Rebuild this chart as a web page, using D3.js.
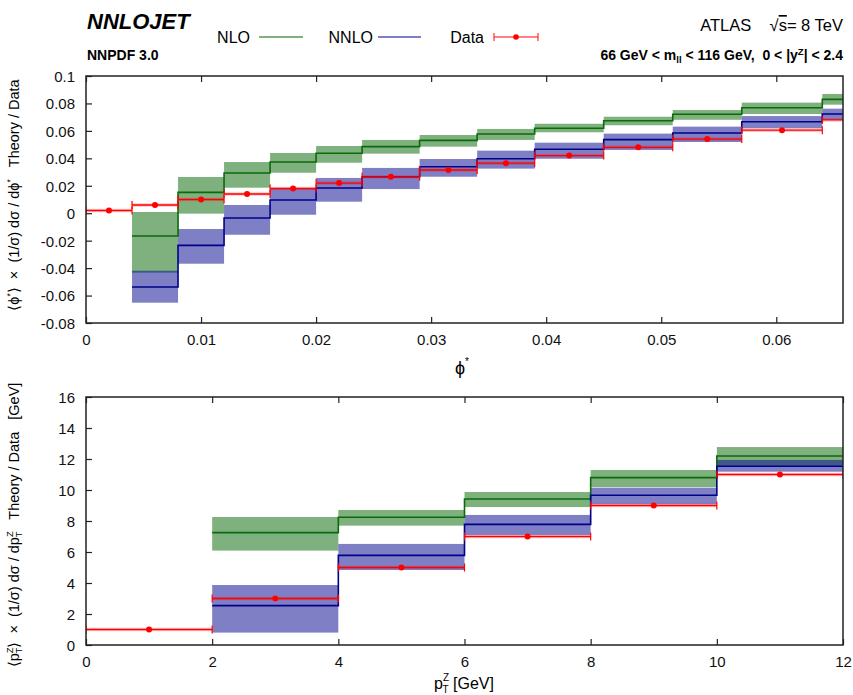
<!DOCTYPE html>
<html>
<head>
<meta charset="utf-8">
<script src="https://cdn.jsdelivr.net/npm/d3@7"></script>
<style>
    body { margin: 0; background: #fff; }
    svg { font-family: "Liberation Sans", Arial, Helvetica, sans-serif; }
    svg text { white-space: pre; }
    .axis path { display: none; }
    .axis line { stroke: #222; stroke-width: 1.2; }
    .axis text { font-size: 15px; fill: #111; }
    .frame { fill: none; stroke: #222; stroke-width: 1.5; }
</style>
</head>
<body>
<svg id="svg" width="853" height="695"></svg>
<script>
// phi* panel
const phiEdges = [0, 0.004, 0.008, 0.012, 0.016, 0.020, 0.024, 0.029, 0.034, 0.039, 0.045, 0.051, 0.057, 0.064, 0.072];
const phiData = [0.002, 0.006, 0.010, 0.014, 0.018, 0.022, 0.0265, 0.0315, 0.0365, 0.042, 0.048, 0.054, 0.0605, 0.068];
const phiNlo = [null, -0.0166, 0.0152, 0.0293, 0.0373, 0.0437, 0.0485, 0.0531, 0.0577, 0.0619, 0.0674, 0.0721, 0.0769, 0.0830];
const phiNloLo = [null, -0.0433, -0.0003, 0.0186, 0.0295, 0.0368, 0.0434, 0.0485, 0.0534, 0.0590, 0.0641, 0.0681, 0.0723, 0.0791];
const phiNloHi = [null, 0.0009, 0.0264, 0.0373, 0.0439, 0.0490, 0.0534, 0.0570, 0.0614, 0.0652, 0.0703, 0.0752, 0.0806, 0.0869];
const phiNnlo = [null, -0.0538, -0.0234, -0.0035, 0.0096, 0.0184, 0.0266, 0.0339, 0.0397, 0.0466, 0.0536, 0.0585, 0.0667, 0.0723];
const phiNnloLo = [null, -0.0652, -0.0368, -0.0157, -0.0011, 0.0084, 0.0176, 0.0266, 0.0325, 0.0397, 0.0461, 0.0519, 0.0619, 0.0679];
const phiNnloHi = [null, -0.0419, -0.0115, 0.0060, 0.0179, 0.0257, 0.0330, 0.0395, 0.0456, 0.0514, 0.0580, 0.0631, 0.0708, 0.0762];
const phiXTicks = [0, 0.01, 0.02, 0.03, 0.04, 0.05, 0.06];
const phiYTicks = [-0.08, -0.06, -0.04, -0.02, 0, 0.02, 0.04, 0.06, 0.08, 0.1];

// pT panel
const ptEdges = [0, 2, 4, 6, 8, 10, 12];
const ptData = [1, 3, 5, 7, 9, 11];
const ptNlo = [null, 7.25, 8.24, 9.42, 10.80, 12.19];
const ptNloLo = [null, 6.09, 7.70, 8.90, 10.19, 11.55];
const ptNloHi = [null, 8.26, 8.71, 9.87, 11.29, 12.77];
const ptNnlo = [null, 2.54, 5.78, 7.78, 9.66, 11.53];
const ptNnloLo = [null, 0.80, 4.84, 7.10, 9.08, 11.18];
const ptNnloHi = [null, 3.87, 6.52, 8.39, 10.15, 11.94];
const ptXTicks = [0, 2, 4, 6, 8, 10, 12];
const ptYTicks = [0, 2, 4, 6, 8, 10, 12, 14, 16];

const nloLine = '#0b6a0b', nloBand = 'rgba(0,100,0,0.5)';
const nnloLine = '#00008b', nnloBand = 'rgba(0,0,139,0.5)';
const dataColor = '#ff0000';

const svg = d3.select('#svg');
const left = 86, right = 843;

function bins(edges, vals) {
    return vals.map((v, i) => ({x0: edges[i], x1: edges[i + 1], v: v}))
        .filter(d => d.v !== null);
}

function stepPoints(edges, vals) {
    const pts = [];
    bins(edges, vals).forEach(d => { pts.push([d.x0, d.v]); pts.push([d.x1, d.v]); });
    return pts;
}

function fmt(d) {
    return d === 0 ? '0' : String(+d.toFixed(3));
}

function drawPanel(p) {
    const x = d3.scaleLinear().domain(p.xDomain).range([left, right]);
    const y = d3.scaleLinear().domain(p.yDomain).range([p.bottom, p.top]);

    const clipId = 'clip-' + p.id;
    svg.append('clipPath').attr('id', clipId)
      .append('rect')
        .attr('x', left).attr('y', p.top)
        .attr('width', right - left).attr('height', p.bottom - p.top);

    const g = svg.append('g').attr('clip-path', 'url(#' + clipId + ')');

    [[p.nloLo, p.nloHi, nloBand], [p.nnloLo, p.nnloHi, nnloBand]].forEach(([lo, hi, col]) => {
        const his = bins(p.edges, hi);
        g.append('g').selectAll('rect')
            .data(bins(p.edges, lo).map((d, i) => ({x0: d.x0, x1: d.x1, lo: d.v, hi: his[i].v})))
          .join('rect')
            .attr('x', d => x(d.x0))
            .attr('width', d => x(d.x1) - x(d.x0))
            .attr('y', d => y(d.hi))
            .attr('height', d => y(d.lo) - y(d.hi))
            .attr('fill', col);
    });

    const line = d3.line().x(d => x(d[0])).y(d => y(d[1]));
    [[p.nlo, nloLine], [p.nnlo, nnloLine]].forEach(([vals, col]) => {
        g.append('path')
            .attr('d', line(stepPoints(p.edges, vals)))
            .attr('fill', 'none')
            .attr('stroke', col)
            .attr('stroke-width', 1.6);
    });

    const dataBins = bins(p.edges, p.data);
    const dg = g.append('g');
    dg.selectAll('.dband')
        .data(dataBins)
      .join('line')
        .attr('x1', d => x(d.x0)).attr('x2', d => x(d.x1))
        .attr('y1', d => y(d.v)).attr('y2', d => y(d.v))
        .attr('stroke', 'rgba(255,0,0,0.22)')
        .attr('stroke-width', 3.5);
    dg.selectAll('.dline')
        .data(dataBins)
      .join('line')
        .attr('x1', d => x(d.x0)).attr('x2', d => x(d.x1))
        .attr('y1', d => y(d.v)).attr('y2', d => y(d.v))
        .attr('stroke', dataColor)
        .attr('stroke-width', 1.3);
    dg.selectAll('.dcap')
        .data(dataBins.flatMap(d => [[d.x0, d.v], [d.x1, d.v]]))
      .join('line')
        .attr('x1', d => x(d[0])).attr('x2', d => x(d[0]))
        .attr('y1', d => y(d[1]) - 4).attr('y2', d => y(d[1]) + 4)
        .attr('stroke', dataColor)
        .attr('stroke-width', 1.2);
    dg.selectAll('circle')
        .data(dataBins)
      .join('circle')
        .attr('cx', d => x((d.x0 + d.x1) / 2))
        .attr('cy', d => y(d.v))
        .attr('r', 3)
        .attr('fill', dataColor);

    svg.append('g')
        .attr('class', 'axis')
        .attr('transform', 'translate(0,' + p.bottom + ')')
        .call(d3.axisBottom(x).tickValues(p.xTicks).tickFormat(fmt).tickSize(-6).tickPadding(11));
    svg.append('g')
        .attr('class', 'axis')
        .attr('transform', 'translate(0,' + p.top + ')')
        .call(d3.axisTop(x).tickValues(p.xTicks).tickFormat('').tickSize(-6));
    svg.append('g')
        .attr('class', 'axis')
        .attr('transform', 'translate(' + left + ',0)')
        .call(d3.axisLeft(y).tickValues(p.yTicks).tickFormat(fmt).tickSize(-6).tickPadding(11))
      .selectAll('text')
        .attr('dy', '0.36em');

    svg.append('rect')
        .attr('class', 'frame')
        .attr('x', left).attr('y', p.top)
        .attr('width', right - left).attr('height', p.bottom - p.top);
}

drawPanel({
    id: 'phi', top: 76, bottom: 323,
    xDomain: [0, 0.0658], yDomain: [-0.08, 0.1],
    edges: phiEdges, data: phiData,
    nlo: phiNlo, nloLo: phiNloLo, nloHi: phiNloHi,
    nnlo: phiNnlo, nnloLo: phiNnloLo, nnloHi: phiNnloHi,
    xTicks: phiXTicks, yTicks: phiYTicks,
});

drawPanel({
    id: 'pt', top: 397, bottom: 645,
    xDomain: [0, 12], yDomain: [0, 16],
    edges: ptEdges, data: ptData,
    nlo: ptNlo, nloLo: ptNloLo, nloHi: ptNloHi,
    nnlo: ptNnlo, nnloLo: ptNnloLo, nnloHi: ptNnloHi,
    xTicks: ptXTicks, yTicks: ptYTicks,
});

// header
svg.append('text')
    .attr('x', 87).attr('y', 29)
    .attr('font-size', 22).attr('font-weight', 'bold').attr('font-style', 'italic')
    .text('NNLOJET');
svg.append('text')
    .attr('x', 87).attr('y', 60)
    .attr('font-size', 14).attr('font-weight', 'bold')
    .text('NNPDF 3.0');

const atlas = svg.append('text')
    .attr('x', 843).attr('y', 31)
    .attr('text-anchor', 'end')
    .attr('font-size', 16.5);
atlas.append('tspan').text('ATLAS    √');
atlas.append('tspan').attr('text-decoration', 'overline').text('s');
atlas.append('tspan').text('= 8 TeV');

const cuts = svg.append('text')
    .attr('x', 843).attr('y', 60)
    .attr('text-anchor', 'end')
    .attr('font-size', 14).attr('font-weight', 'bold');
cuts.append('tspan').text('66 GeV < m');
cuts.append('tspan').attr('font-size', 9.5).attr('dy', 3).text('ll');
cuts.append('tspan').attr('dy', -3).text(' < 116 GeV,  0 < |y');
cuts.append('tspan').attr('font-size', 9.5).attr('dy', -5).text('Z');
cuts.append('tspan').attr('dy', 5).text('| < 2.4');

// legend
const legend = [
    {label: 'NLO', tx: 250, x0: 259, x1: 303, col: nloBand},
    {label: 'NNLO', tx: 373, x0: 378, x1: 421, col: nnloBand},
];
legend.forEach(d => {
    svg.append('text')
        .attr('x', d.tx).attr('y', 43)
        .attr('text-anchor', 'end')
        .attr('font-size', 16)
        .text(d.label);
    svg.append('line')
        .attr('x1', d.x0).attr('x2', d.x1)
        .attr('y1', 37).attr('y2', 37)
        .attr('stroke', d.col).attr('stroke-width', 2);
});
svg.append('text')
    .attr('x', 484).attr('y', 43)
    .attr('text-anchor', 'end')
    .attr('font-size', 16)
    .text('Data');
const lg = svg.append('g').attr('stroke', 'rgba(255,0,0,0.65)').attr('stroke-width', 1.5);
lg.append('line').attr('x1', 494).attr('x2', 538).attr('y1', 37).attr('y2', 37);
lg.append('line').attr('x1', 494).attr('x2', 494).attr('y1', 33).attr('y2', 41);
lg.append('line').attr('x1', 538).attr('x2', 538).attr('y1', 33).attr('y2', 41);
svg.append('circle').attr('cx', 516).attr('cy', 37).attr('r', 2.8).attr('fill', dataColor);

// axis titles
const xt1 = svg.append('text')
    .attr('x', 462).attr('y', 374)
    .attr('text-anchor', 'middle')
    .attr('font-size', 18);
xt1.append('tspan').text('ϕ');
xt1.append('tspan').attr('font-size', 10).attr('dy', -9).text('*');

const xt2 = svg.append('text')
    .attr('x', 464).attr('y', 689)
    .attr('text-anchor', 'middle')
    .attr('font-size', 16);
xt2.append('tspan').text('p');
xt2.append('tspan').attr('font-size', 10).attr('dy', -8).text('Z');
xt2.append('tspan').attr('font-size', 10).attr('dx', -6.5).attr('dy', 12).text('T');
xt2.append('tspan').attr('dy', -4).text(' [GeV]');

const yt1 = svg.append('text')
    .attr('transform', 'translate(19,195) rotate(-90)')
    .attr('text-anchor', 'middle')
    .attr('font-size', 14.5);
yt1.append('tspan').text('⟨ϕ');
yt1.append('tspan').attr('font-size', 8.5).attr('dy', -6).text('*');
yt1.append('tspan').attr('dy', 6).text('⟩  ×  (1/σ) dσ / dϕ');
yt1.append('tspan').attr('font-size', 8.5).attr('dy', -6).text('*');
yt1.append('tspan').attr('dy', 6).text('   Theory / Data');

const yt2 = svg.append('text')
    .attr('transform', 'translate(19,525) rotate(-90)')
    .attr('text-anchor', 'middle')
    .attr('font-size', 14.5);
yt2.append('tspan').text('⟨p');
yt2.append('tspan').attr('font-size', 9.5).attr('dy', -6).text('Z');
yt2.append('tspan').attr('font-size', 9.5).attr('dx', -6).attr('dy', 9).text('T');
yt2.append('tspan').attr('dy', -3).text('⟩  ×  (1/σ) dσ / dp');
yt2.append('tspan').attr('font-size', 9.5).attr('dy', -6).text('Z');
yt2.append('tspan').attr('font-size', 9.5).attr('dx', -6).attr('dy', 9).text('T');
yt2.append('tspan').attr('dy', -3).text('   Theory / Data   [GeV]');
</script>
</body>
</html>
